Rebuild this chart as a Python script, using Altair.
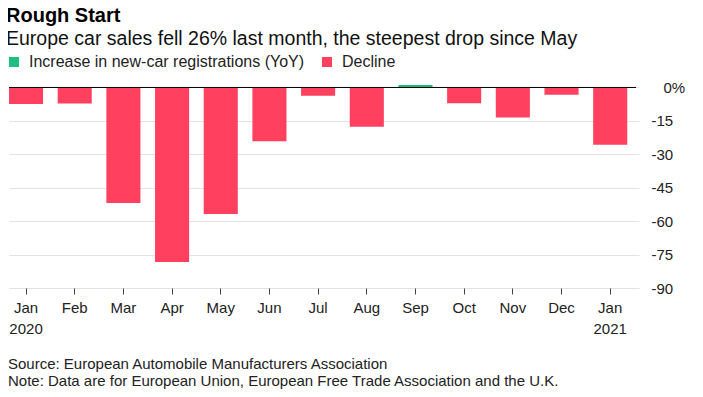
import altair as alt
import pandas as pd

months = ["Jan 2020", "Feb", "Mar", "Apr", "May", "Jun", "Jul", "Aug", "Sep", "Oct", "Nov", "Dec", "Jan 2021"]
changes = [-7.4, -7.2, -51.8, -78.3, -56.8, -24.1, -3.7, -17.6, 1.1, -7.1, -13.5, -3.3, -25.7]
series_names = ["Increase in new-car registrations (YoY)", "Decline"]
series_colors = ["#1fbf82", "#ff405f"]
y_ticks = [0, -15, -30, -45, -60, -75, -90]

title_text = "Rough Start"
subtitle_text = "Europe car sales fell 26% last month, the steepest drop since May"
source_text = "Source: European Automobile Manufacturers Association"
note_text = "Note: Data are for European Union, European Free Trade Association and the U.K."

df = pd.DataFrame({
    "month": months,
    "change": changes,
    "series": [series_names[0] if v > 0 else series_names[1] for v in changes],
})

FONT = "Liberation Sans"

y_scale = alt.Scale(domain=[-90, 2], nice=False, zero=True)
y_axis = alt.Axis(
    title=None,
    orient="right",
    values=y_ticks,
    tickCount=7,
    domain=False,
    ticks=True,
    tickSize=3,
    tickColor="#e2e2e2",
    labelPadding={"condition": {"test": "datum.value == 0", "value": 24}, "value": 12},
    labelFontSize=15,
    labelFont=FONT,
    labelColor="#222",
    labelOverlap=False,
    labelFlush=False,
    grid=True,
    gridColor="#e2e2e2",
    gridWidth=1,
    labelExpr="datum.value == 0 ? '0%' : toString(datum.value)",
)

bars = alt.Chart(df).mark_bar().encode(
    x=alt.X(
        "month:N",
        sort=months,
        scale=alt.Scale(paddingInner=0.3, paddingOuter=0.09, align=0),
        axis=alt.Axis(
            title=None,
            domain=False,
            ticks=True,
            tickSize=6,
            tickColor="#444",
            tickWidth=1,
            labelAngle=0,
            labelFontSize=15,
            labelColor="#222",
            labelFont=FONT,
            labelPadding=6,
            labelLineHeight=21,
            labelExpr="split(datum.label, ' ')",
            grid=False,
        ),
    ),
    y=alt.Y("change:Q", scale=y_scale, axis=y_axis),
    color=alt.Color(
        "series:N",
        scale=alt.Scale(domain=series_names, range=series_colors),
        legend=alt.Legend(
            title=None,
            orient="none",
            legendX=-3,
            legendY=-29,
            direction="horizontal",
            symbolType="square",
            symbolSize=100,
            symbolStrokeWidth=0,
            labelFontSize=16,
            labelFont=FONT,
            labelColor="#222",
            labelOffset=7,
            labelLimit=500,
            columnPadding=14,
        ),
    ),
)

zero_line = alt.Chart(pd.DataFrame({"change": [0]})).mark_rule(color="#000", strokeWidth=1).encode(
    y=alt.Y("change:Q", scale=y_scale, axis=y_axis)
)

source = alt.Chart(pd.DataFrame({"t": [source_text]})).mark_text(
    align="left", baseline="middle", fontSize=15, font=FONT, color="#222"
).encode(text="t:N", x=alt.value(-1), y=alt.value(281))

note = alt.Chart(pd.DataFrame({"t": [note_text]})).mark_text(
    align="left", baseline="middle", fontSize=15, font=FONT, color="#222"
).encode(text="t:N", x=alt.value(-1), y=alt.value(298))

chart = alt.layer(bars, zero_line, source, note).properties(
    width=627,
    height=205,
    autosize="none",
    padding={"left": 1, "top": 75, "right": 59, "bottom": 101},
    title=alt.Title(
        title_text,
        subtitle=subtitle_text,
        anchor="start",
        font=FONT,
        fontSize=20,
        fontWeight="bold",
        color="#000",
        subtitleFont=FONT,
        subtitleFontSize=19.5,
        subtitleColor="#111",
        subtitlePadding=4,
        offset=6,
    ),
).configure_view(stroke=None)

chart.save("out.html", embed_options={"renderer": "svg", "actions": False})
